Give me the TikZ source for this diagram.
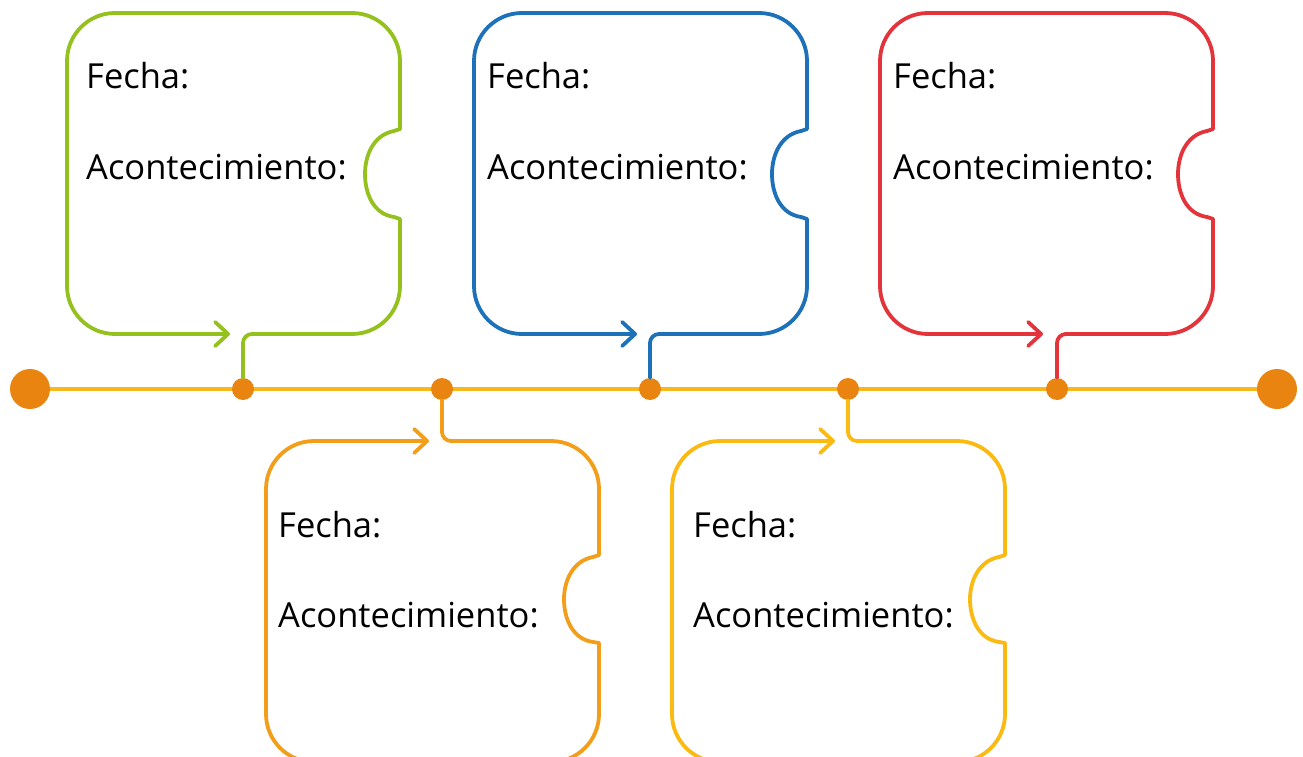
\documentclass[tikz,border=0pt]{standalone}
\usepackage{fontspec}
\setmainfont{Open Sans}
\usetikzlibrary{arrows.meta}
\definecolor{lineyellow}{HTML}{F9B71B}
\definecolor{dotorange}{HTML}{E8840F}
\definecolor{cardgreen}{HTML}{95C11F}
\definecolor{cardblue}{HTML}{1D71B8}
\definecolor{cardred}{HTML}{E3343C}
\definecolor{cardorange}{HTML}{F39E1B}
\definecolor{cardyellow}{HTML}{FBBA12}
\tikzset{
	card/.style={line width=3.8pt, line cap=round, line join=round},
	dot/.style={circle, fill=dotorange, inner sep=0pt, minimum size=22pt},
	bigdot/.style={circle, fill=dotorange, inner sep=0pt, minimum size=40pt},
	lbl/.style={anchor=base west, inner sep=0pt, font=\fontsize{34.5}{40}\selectfont},
	tip/.style={-{Straight Barb[length=13pt,width=24pt,round]}}
}
% card with arrow and joint at the bottom: #1 colour, #2 top left, #3 joint
\newcommand\upcard[3]{%
	\begin{scope}[shift={#2}, card, draw=#1]
		\draw[rounded corners=48, tip] (333,116) -- (333,0) -- (0,0) -- (0,321) -- (163,321);
		\draw[rounded corners=48] (185,321) -- (333,321) -- (333,206);
		\draw (333,116) -- (327,118) .. controls (306,122) and (298,143) .. (298,161) .. controls (298,180) and (306,201) .. (327,204) -- (333,206);
		\coordinate (#3) at (190,321);
	\end{scope}}
% card with arrow and joint at the top
\newcommand\downcard[3]{%
	\begin{scope}[shift={#2}, card, draw=#1]
		\draw[rounded corners=48] (185,0) -- (333,0) -- (333,114);
		\draw[rounded corners=48, tip] (333,202) -- (333,321) -- (0,321) -- (0,0) -- (163,0);
		\draw (333,114) -- (327,116) .. controls (306,120) and (298,141) .. (298,158) .. controls (298,177) and (306,198) .. (327,201) -- (333,202);
		\coordinate (#3) at (190,0);
	\end{scope}}

\begin{document}
\begin{tikzpicture}[x=1pt, y=-1pt]
	%%%%% START %%%%%
	\useasboundingbox (0,0) rectangle (1303,757);
	\clip (0,0) rectangle (1303,757);
	
	% time line
	\node[bigdot] (start) at (30,389) {};
	\node[bigdot] (end) at (1277,389) {};
	\draw[line width=4pt, lineyellow] (start) -- (end);
	
	\node[dot] (d1) at (243,389) {};
	\node[dot] (d2) at (442,389) {};
	\node[dot] (d3) at (650,389) {};
	\node[dot] (d4) at (848,389) {};
	\node[dot] (d5) at (1057,389) {};
	
	% cards
	\upcard{cardgreen}{(67,13)}{j1}
	\downcard{cardorange}{(266,441)}{j2}
	\upcard{cardblue}{(474,13)}{j3}
	\downcard{cardyellow}{(672,441)}{j4}
	\upcard{cardred}{(880,13)}{j5}
	
	\draw[card, cardgreen, rounded corners=9] (d1) |- (j1);
	\draw[card, cardorange, rounded corners=9] (d2) |- (j2);
	\draw[card, cardblue, rounded corners=9] (d3) |- (j3);
	\draw[card, cardyellow, rounded corners=9] (d4) |- (j4);
	\draw[card, cardred, rounded corners=9] (d5) |- (j5);
	
	% texts
	\node[lbl] (date1) at (86,89) {Fecha:};
	\node[lbl] (event1) at (86,179) {Acontecimiento:};
	\node[lbl] (date2) at (278,537) {Fecha:};
	\node[lbl] (event2) at (278,627) {Acontecimiento:};
	\node[lbl] (date3) at (487,89) {Fecha:};
	\node[lbl] (event3) at (487,179) {Acontecimiento:};
	\node[lbl] (date4) at (693,537) {Fecha:};
	\node[lbl] (event4) at (693,627) {Acontecimiento:};
	\node[lbl] (date5) at (893,89) {Fecha:};
	\node[lbl] (event5) at (893,179) {Acontecimiento:};
	
	%%%%% END %%%%%
\end{tikzpicture}
\end{document}
